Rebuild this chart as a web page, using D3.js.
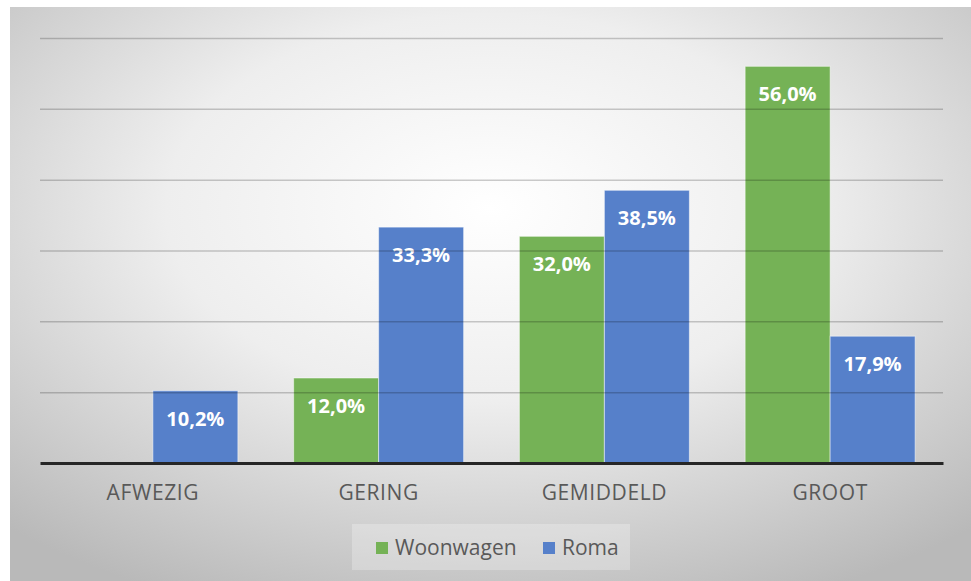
<!DOCTYPE html>
<html>
<head>
<meta charset="utf-8">
<script src="https://cdn.jsdelivr.net/npm/d3@7"></script>
<style>
  body { margin: 0; background: #ffffff; }
  svg { display: block; font-family: "Open Sans", "Noto Sans", sans-serif; }
</style>
</head>
<body>
<div id="chart"></div>
<script>
// chart values
const categories = ["AFWEZIG", "GERING", "GEMIDDELD", "GROOT"];
const seriesNames = ["Woonwagen", "Roma"];
const woonwagen = [0, 12.0, 32.0, 56.0];
const roma = [10.2, 33.3, 38.5, 17.9];
const yTicks = [0, 10, 20, 30, 40, 50, 60];

const width = 971, height = 581;
const margin = { top: 38, right: 28, bottom: 118, left: 40 };
const colors = { Woonwagen: "#75b256", Roma: "#5680ca" };

const svg = d3.select("#chart")
  .append("svg")
  .attr("width", width)
  .attr("height", height);

// background gradient, light in the middle, grey toward the edges
const defs = svg.append("defs");
const grad = defs.append("radialGradient")
  .attr("id", "bg")
  .attr("cx", "50%").attr("cy", "35%").attr("r", "75%");
grad.append("stop").attr("offset", "0%").attr("stop-color", "#ffffff");
grad.append("stop").attr("offset", "45%").attr("stop-color", "#eeeeee");
grad.append("stop").attr("offset", "100%").attr("stop-color", "#b9b9b9");

svg.append("rect")
  .attr("x", 10).attr("y", 7)
  .attr("width", width - 10).attr("height", height - 7)
  .attr("fill", "url(#bg)");

// build rows for grouping
const rows = categories.map((c, i) => ({ cat: c, Woonwagen: woonwagen[i], Roma: roma[i] }));

const x0 = d3.scaleBand()
  .domain(categories)
  .range([margin.left, width - margin.right])
  .paddingInner(0.247)
  .paddingOuter(0.1235);

const x1 = d3.scaleBand()
  .domain(seriesNames)
  .range([0, x0.bandwidth()]);

const y = d3.scaleLinear()
  .domain([0, 60])
  .range([height - margin.bottom, margin.top]);

// bars
const groups = svg.append("g")
  .selectAll("g")
  .data(rows)
  .join("g")
  .attr("transform", d => `translate(${x0(d.cat)},0)`);

groups.selectAll("rect")
  .data(d => seriesNames.map(k => ({ key: k, value: d[k] })).filter(e => e.value > 0))
  .join("rect")
  .attr("x", d => x1(d.key))
  .attr("y", d => y(d.value))
  .attr("width", x1.bandwidth())
  .attr("height", d => y(0) - y(d.value))
  .attr("fill", d => colors[d.key])
  .attr("stroke", "rgba(255,255,255,0.5)")
  .attr("stroke-width", 1);

// gridlines, drawn on top of the bars (semi transparent)
svg.append("g")
  .attr("transform", `translate(${margin.left},0)`)
  .call(d3.axisLeft(y).tickValues(yTicks.slice(1)).tickSize(-(width - margin.left - margin.right)).tickFormat(""))
  .call(g => g.select(".domain").remove())
  .call(g => g.selectAll("line").attr("stroke", "rgba(0,0,0,0.2)").attr("stroke-width", 1.5));

// value labels
groups.selectAll("text")
  .data(d => seriesNames.map(k => ({ key: k, value: d[k] })).filter(e => e.value > 0))
  .join("text")
  .attr("x", d => x1(d.key) + x1.bandwidth() / 2)
  .attr("y", d => y(d.value) + 35)
  .attr("text-anchor", "middle")
  .attr("fill", "#ffffff")
  .attr("font-size", "20px")
  .attr("font-weight", "bold")
  .text(d => d.value.toFixed(1).replace(".", ",") + "%");

// x axis
const xAxis = svg.append("g")
  .attr("transform", `translate(0,${y(0)})`)
  .call(d3.axisBottom(x0).tickSize(0).tickPadding(22));
xAxis.select(".domain").attr("stroke", "#262626").attr("stroke-width", 3);
xAxis.selectAll("text")
  .attr("fill", "#595959")
  .attr("font-size", "21px")
  .attr("letter-spacing", "0.6px")
  .attr("font-family", "'Open Sans', sans-serif");

// legend
const legend = svg.append("g");
legend.append("rect")
  .attr("x", 352).attr("y", 524)
  .attr("width", 278).attr("height", 46)
  .attr("fill", "rgba(255,255,255,0.25)");

const legendX = [376, 543];
seriesNames.forEach((name, i) => {
  legend.append("rect")
    .attr("x", legendX[i]).attr("y", 542)
    .attr("width", 12).attr("height", 12)
    .attr("fill", colors[name]);
  legend.append("text")
    .attr("x", legendX[i] + 19).attr("y", 555)
    .attr("fill", "#595959")
    .attr("font-size", "21px")
    .text(name);
});
</script>
</body>
</html>
